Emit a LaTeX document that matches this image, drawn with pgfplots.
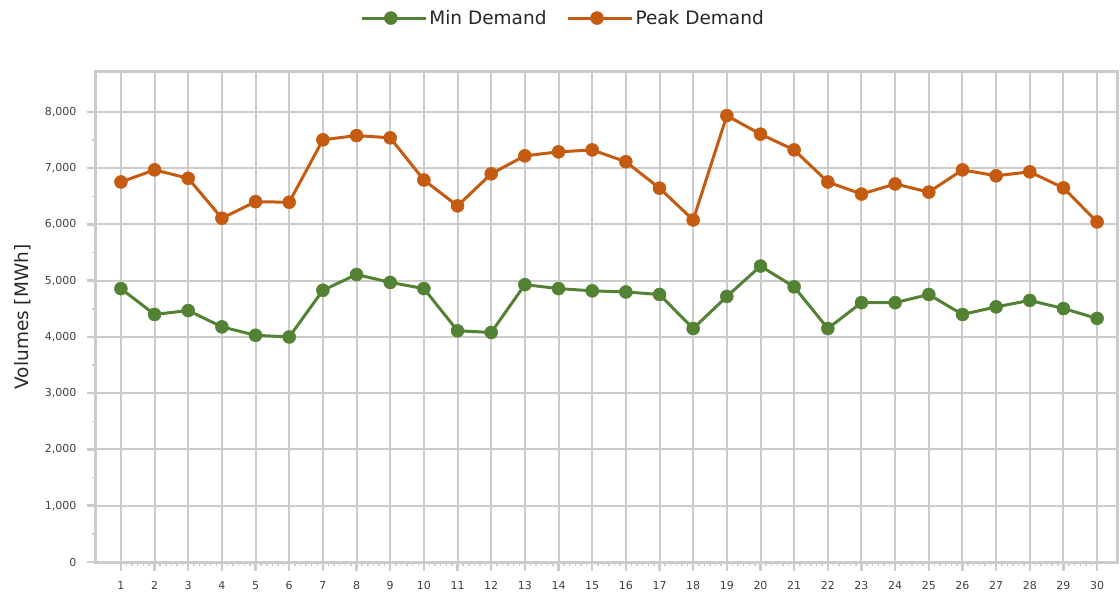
\documentclass[border=0pt]{standalone}
\usepackage{pgfplots}
\pgfplotsset{compat=1.18}
\usepackage{fontspec}
\setmainfont{DejaVu Sans}
\definecolor{mingreen}{RGB}{84,130,53}
\definecolor{peakorange}{RGB}{197,90,17}
\definecolor{gridc}{RGB}{204,204,204}
\definecolor{labc}{RGB}{64,64,64}
\definecolor{titc}{RGB}{38,38,38}
\begin{document}
\begin{tikzpicture}
\path[use as bounding box] (-96pt,-36pt) rectangle (1024pt,562pt);
\begin{axis}[
  at={(0pt,0pt)}, anchor=south west,
  scale only axis, width=1022pt, height=490pt,
  xmin=0.26, xmax=30.62, ymin=0, ymax=8710,
  xtick={1,...,30}, ytick={0,1000,...,8000},
  minor x tick num=5, minor y tick num=1,
  grid=major, major grid style={gridc, line width=2pt},
  axis line style={gridc, line width=3pt},
  tick align=outside, tick pos=left,
  major tick length=9pt, minor tick length=4pt,
  major tick style={gridc, line width=2.5pt},
  minor tick style={gridc, line width=1.5pt},
  /pgf/number format/assume math mode=true,
  /pgf/number format/1000 sep={,},
  ticklabel style={font=\fontsize{11}{13}\selectfont, text=labc},
  yticklabel style={xshift=-7pt},
  xticklabel style={yshift=-7pt},
  ylabel={Volumes [MWh]},
  ylabel style={at={(axis description cs:-0.0714,0.5)}, anchor=center, font=\fontsize{18.5}{22}\selectfont, text=titc},
  legend style={at={(axis description cs:0.457,1.11)}, anchor=center, draw=none, fill=none,
    font=\fontsize{18.5}{22}\selectfont, text=titc,
    /tikz/every even column/.append style={column sep=18pt}},
  legend columns=2,
  legend cell align=left,
  legend image code/.code={\path (0pt,0pt) -- (64pt,0pt);\draw[line width=2pt, mark repeat=2, mark phase=2] plot coordinates {(0pt,0pt) (29pt,0pt) (58pt,0pt)};},
]
\addplot[mingreen, line width=3pt, mark=*, mark size=6.5pt, mark options={solid, fill=mingreen, draw=mingreen, line width=0.5pt}] coordinates {
(1,4860) (2,4400) (3,4470) (4,4180) (5,4030) (6,4000) (7,4830) (8,5110) (9,4970) (10,4860)
(11,4110) (12,4080) (13,4930) (14,4860) (15,4820) (16,4800) (17,4755) (18,4150) (19,4720) (20,5260)
(21,4890) (22,4150) (23,4610) (24,4610) (25,4755) (26,4400) (27,4535) (28,4650) (29,4505) (30,4330)};
\addlegendentry{Min Demand}
\addplot[peakorange, line width=3pt, mark=*, mark size=6.5pt, mark options={solid, fill=peakorange, draw=peakorange, line width=0.5pt}] coordinates {
(1,6755) (2,6970) (3,6820) (4,6110) (5,6405) (6,6395) (7,7505) (8,7580) (9,7540) (10,6790)
(11,6330) (12,6900) (13,7220) (14,7290) (15,7325) (16,7115) (17,6645) (18,6080) (19,7935) (20,7605)
(21,7325) (22,6755) (23,6540) (24,6720) (25,6575) (26,6970) (27,6865) (28,6935) (29,6650) (30,6045)};
\addlegendentry{Peak Demand}
\end{axis}
\end{tikzpicture}
\end{document}
